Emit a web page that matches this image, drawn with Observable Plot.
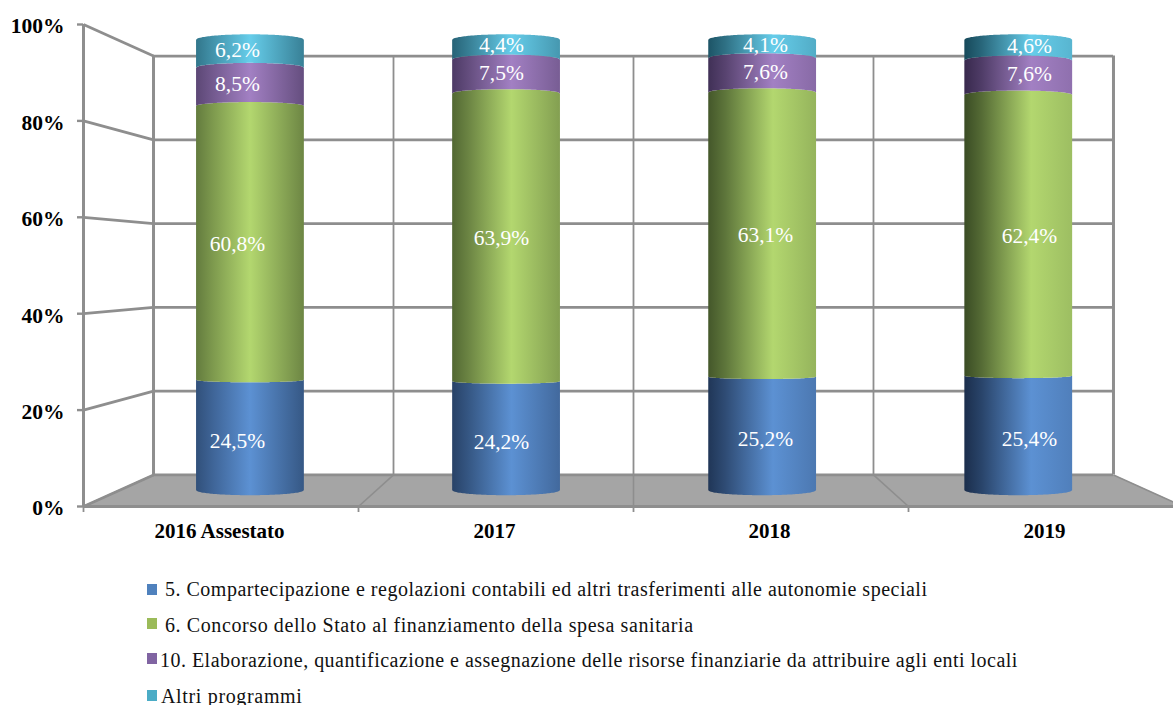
<!DOCTYPE html>
<html lang="it">
<head>
<meta charset="utf-8">
<script src="https://cdn.jsdelivr.net/npm/d3@7"></script>
<script src="https://cdn.jsdelivr.net/npm/@observablehq/plot@0.6"></script>
<style>
html,body{margin:0;padding:0;background:#fff;width:1173px;height:705px;overflow:hidden}
#chart svg{display:block}
#legend{position:absolute;left:147px;top:0;font-family:"Liberation Serif",serif;font-size:20px;color:#111}
.row{position:absolute;left:0;white-space:nowrap;line-height:20px;height:20px}
.sw{position:absolute;left:0;top:4px;width:10px;height:11px}
.tx{position:absolute;top:0;white-space:pre}
</style>
</head>
<body>
<div id="chart"></div>
<div id="legend"></div>
<script>
const categories = ["2016 Assestato", "2017", "2018", "2019"];
const seriesNames = [
  "5. Compartecipazione e regolazioni contabili ed altri trasferimenti alle autonomie speciali",
  "6. Concorso dello Stato al finanziamento della spesa sanitaria",
  "10. Elaborazione, quantificazione e assegnazione delle risorse finanziarie da attribuire agli enti locali",
  "Altri programmi"
];
const compartecipazione = [24.5, 24.2, 25.2, 25.4];
const concorso = [60.8, 63.9, 63.1, 62.4];
const elaborazione = [8.5, 7.5, 7.6, 7.6];
const altri = [6.2, 4.4, 4.1, 4.6];
const yTicks = [0, 20, 40, 60, 80, 100];
const dividers = [0, 1, 2, 3, 4];

// styling
const seriesValues = [compartecipazione, concorso, elaborazione, altri];
const legendColors = ["#4f81bd", "#9bbb59", "#8064a2", "#4bacc6"];
const lights = ["#5c91d3", "#b3d76f", "#a280c3", "#66cdea"];
const darks = ["#1b2e4c", "#3a4c24", "#38294d", "#17495a"];
const leftShade = [0.34, 0.2, 0.08, 0];
const rightShade = [0.42, 0.6, 0.75, 0.82];
const peak = [0.5, 0.55, 0.6, 0.62];
const gridColor = "#8e8e8e";

// a 3D box seen in perspective: depth 0 is the front edge, depth 1 the back wall
const sx = d => 1 - d * 0.1273, sy = d => 1 - d * 0.131;
const px = (x, d) => 2 + (x - 2) * sx(d);
const py = (v, d) => 50 + (v - 50) * sy(d);

const BARDEPTH = 0.5, BARXDEPTH = 0.54, LABELDEPTH = 0.314, HALF = 0.196, NUDGE = 0.004, PXPERUNIT = 4.82;
// vertical sag of the cylinder's ellipse at a height, in y units (down at the foot, up at the head)
const sag = v => (5 - 10.5 * v / 100) / PXPERUNIT;
const ts = d3.range(-40, 41).map(i => i / 40);

const segments = [];
const labels = [];
categories.forEach((c, i) => {
  let base = 0;
  seriesValues.forEach((vals, s) => {
    const top = base + vals[i];
    const cx = px(i + 0.5, BARXDEPTH) + NUDGE;
    const lo = py(base, BARDEPTH), hi = py(top, BARDEPTH);
    const sb = sag(base), st = sag(top);
    segments.push({
      id: `g${i}-${s}`,
      points: ts.map(t => {
        const e = Math.sqrt(1 - t * t);
        return {x: cx + t * HALF, y1: lo - sb * e, y2: hi - st * e};
      })
    });
    labels.push({
      x: px(i + 0.5, LABELDEPTH),
      y: py(base + vals[i] / 2, LABELDEPTH),
      text: vals[i].toFixed(1).replace(".", ",") + "%"
    });
    base = top;
  });
});

const defsMark = () => {
  const defs = d3.create("svg:defs");
  categories.forEach((c, i) => lights.forEach((light, s) => {
    const mix = d3.interpolateRgb(darks[s], light);
    const g = defs.append("linearGradient").attr("id", `g${i}-${s}`)
      .attr("x1", 0).attr("x2", 1).attr("y1", 0).attr("y2", 0);
    [[0, mix(leftShade[i])], [0.16, mix(leftShade[i] + 0.22)], [peak[i], light], [1, mix(rightShade[i])]]
      .forEach(([o, col]) => g.append("stop").attr("offset", o).attr("stop-color", col));
  }));
  return defs.node();
};

const floor = [
  {x: px(0, 0), y2: py(0, 0)},
  {x: px(0, 1), y2: py(0, 1)},
  {x: px(4, 1), y2: py(0, 1)},
  {x: px(4, 0), y2: py(0, 0)}
];

const plot = Plot.plot({
  width: 1173, height: 560,
  marginLeft: 83, marginRight: -10, marginTop: 24, marginBottom: 54,
  x: {domain: [0, 4]},
  y: {domain: [0, 100]},
  style: {fontFamily: '"Liberation Serif", serif', background: "#fff", color: "#000"},
  marks: [
    defsMark,
    Plot.areaY(floor, {x: "x", y1: 0, y2: "y2", fill: "#a5a5a5"}),
    // back wall
    Plot.ruleY(yTicks, {y: v => py(v, 1), x1: px(0, 1), x2: px(4, 1), stroke: gridColor, strokeWidth: 2.8}),
    Plot.ruleX(dividers, {x: d => px(d, 1), y1: py(0, 1), y2: py(100, 1), stroke: gridColor, strokeWidth: d => (d === 0 || d === 4) ? 3 : 1.8}),
    // left wall
    Plot.link(yTicks, {x1: px(0, 0), x2: px(0, 1), y1: v => v, y2: v => py(v, 1), stroke: gridColor, strokeWidth: 2.8}),
    // floor dividers
    Plot.link(dividers, {x1: d => px(d, 0), x2: d => px(d, 1), y1: py(0, 0), y2: py(0, 1), stroke: gridColor, strokeWidth: 1.6}),
    // cylinders
    ...segments.map(sg => Plot.area(sg.points, {x1: "x", y1: "y1", y2: "y2", fill: `url(#${sg.id})`})),
    Plot.text(labels, {x: "x", y: "y", text: "text", fill: "#fff", fontSize: 21.5, textAnchor: "middle", lineAnchor: "middle", dy: 1, fontFamily: '"Liberation Serif", serif'}),
    // axes
    Plot.ruleX([0], {y1: 0, y2: 100, stroke: gridColor, strokeWidth: 3}),
    Plot.ruleY([0], {x1: 0, x2: 4, stroke: gridColor, strokeWidth: 3}),
    Plot.axisY({ticks: yTicks, text: null, tickSize: 6, stroke: gridColor, strokeWidth: 2.4, label: null}),
    Plot.axisY({ticks: yTicks, tickSize: 0, tickPadding: 19, dy: 2, tickFormat: d => d + "%", fontSize: 21.5, fontWeight: "bold", fill: "#000", label: null}),
    Plot.axisX({ticks: dividers, text: null, tickSize: 6, stroke: gridColor, strokeWidth: 1.8, label: null}),
    Plot.axisX({ticks: [0.5, 1.5, 2.5, 3.5], tickSize: 0, tickPadding: 17, dx: -1.5, tickFormat: d => categories[d - 0.5], fontSize: 21, fontWeight: "bold", fill: "#000", label: null})
  ]
});
document.getElementById("chart").appendChild(plot);

const legend = d3.select("#legend");
const rowTop = [579, 615, 650, 686], swTop = [584, 618, 653, 690], txLeft = [18, 18, 13, 14], spacing = [0.5, 0.6, 0.48, 0.66];
seriesNames.forEach((name, i) => {
  const row = legend.append("div").attr("class", "row").style("top", rowTop[i] + "px");
  row.append("div").attr("class", "sw").style("top", (swTop[i] - rowTop[i]) + "px").style("background", legendColors[i]);
  row.append("div").attr("class", "tx").style("left", txLeft[i] + "px").style("letter-spacing", spacing[i] + "px").text(name);
});
</script>
</body>
</html>
